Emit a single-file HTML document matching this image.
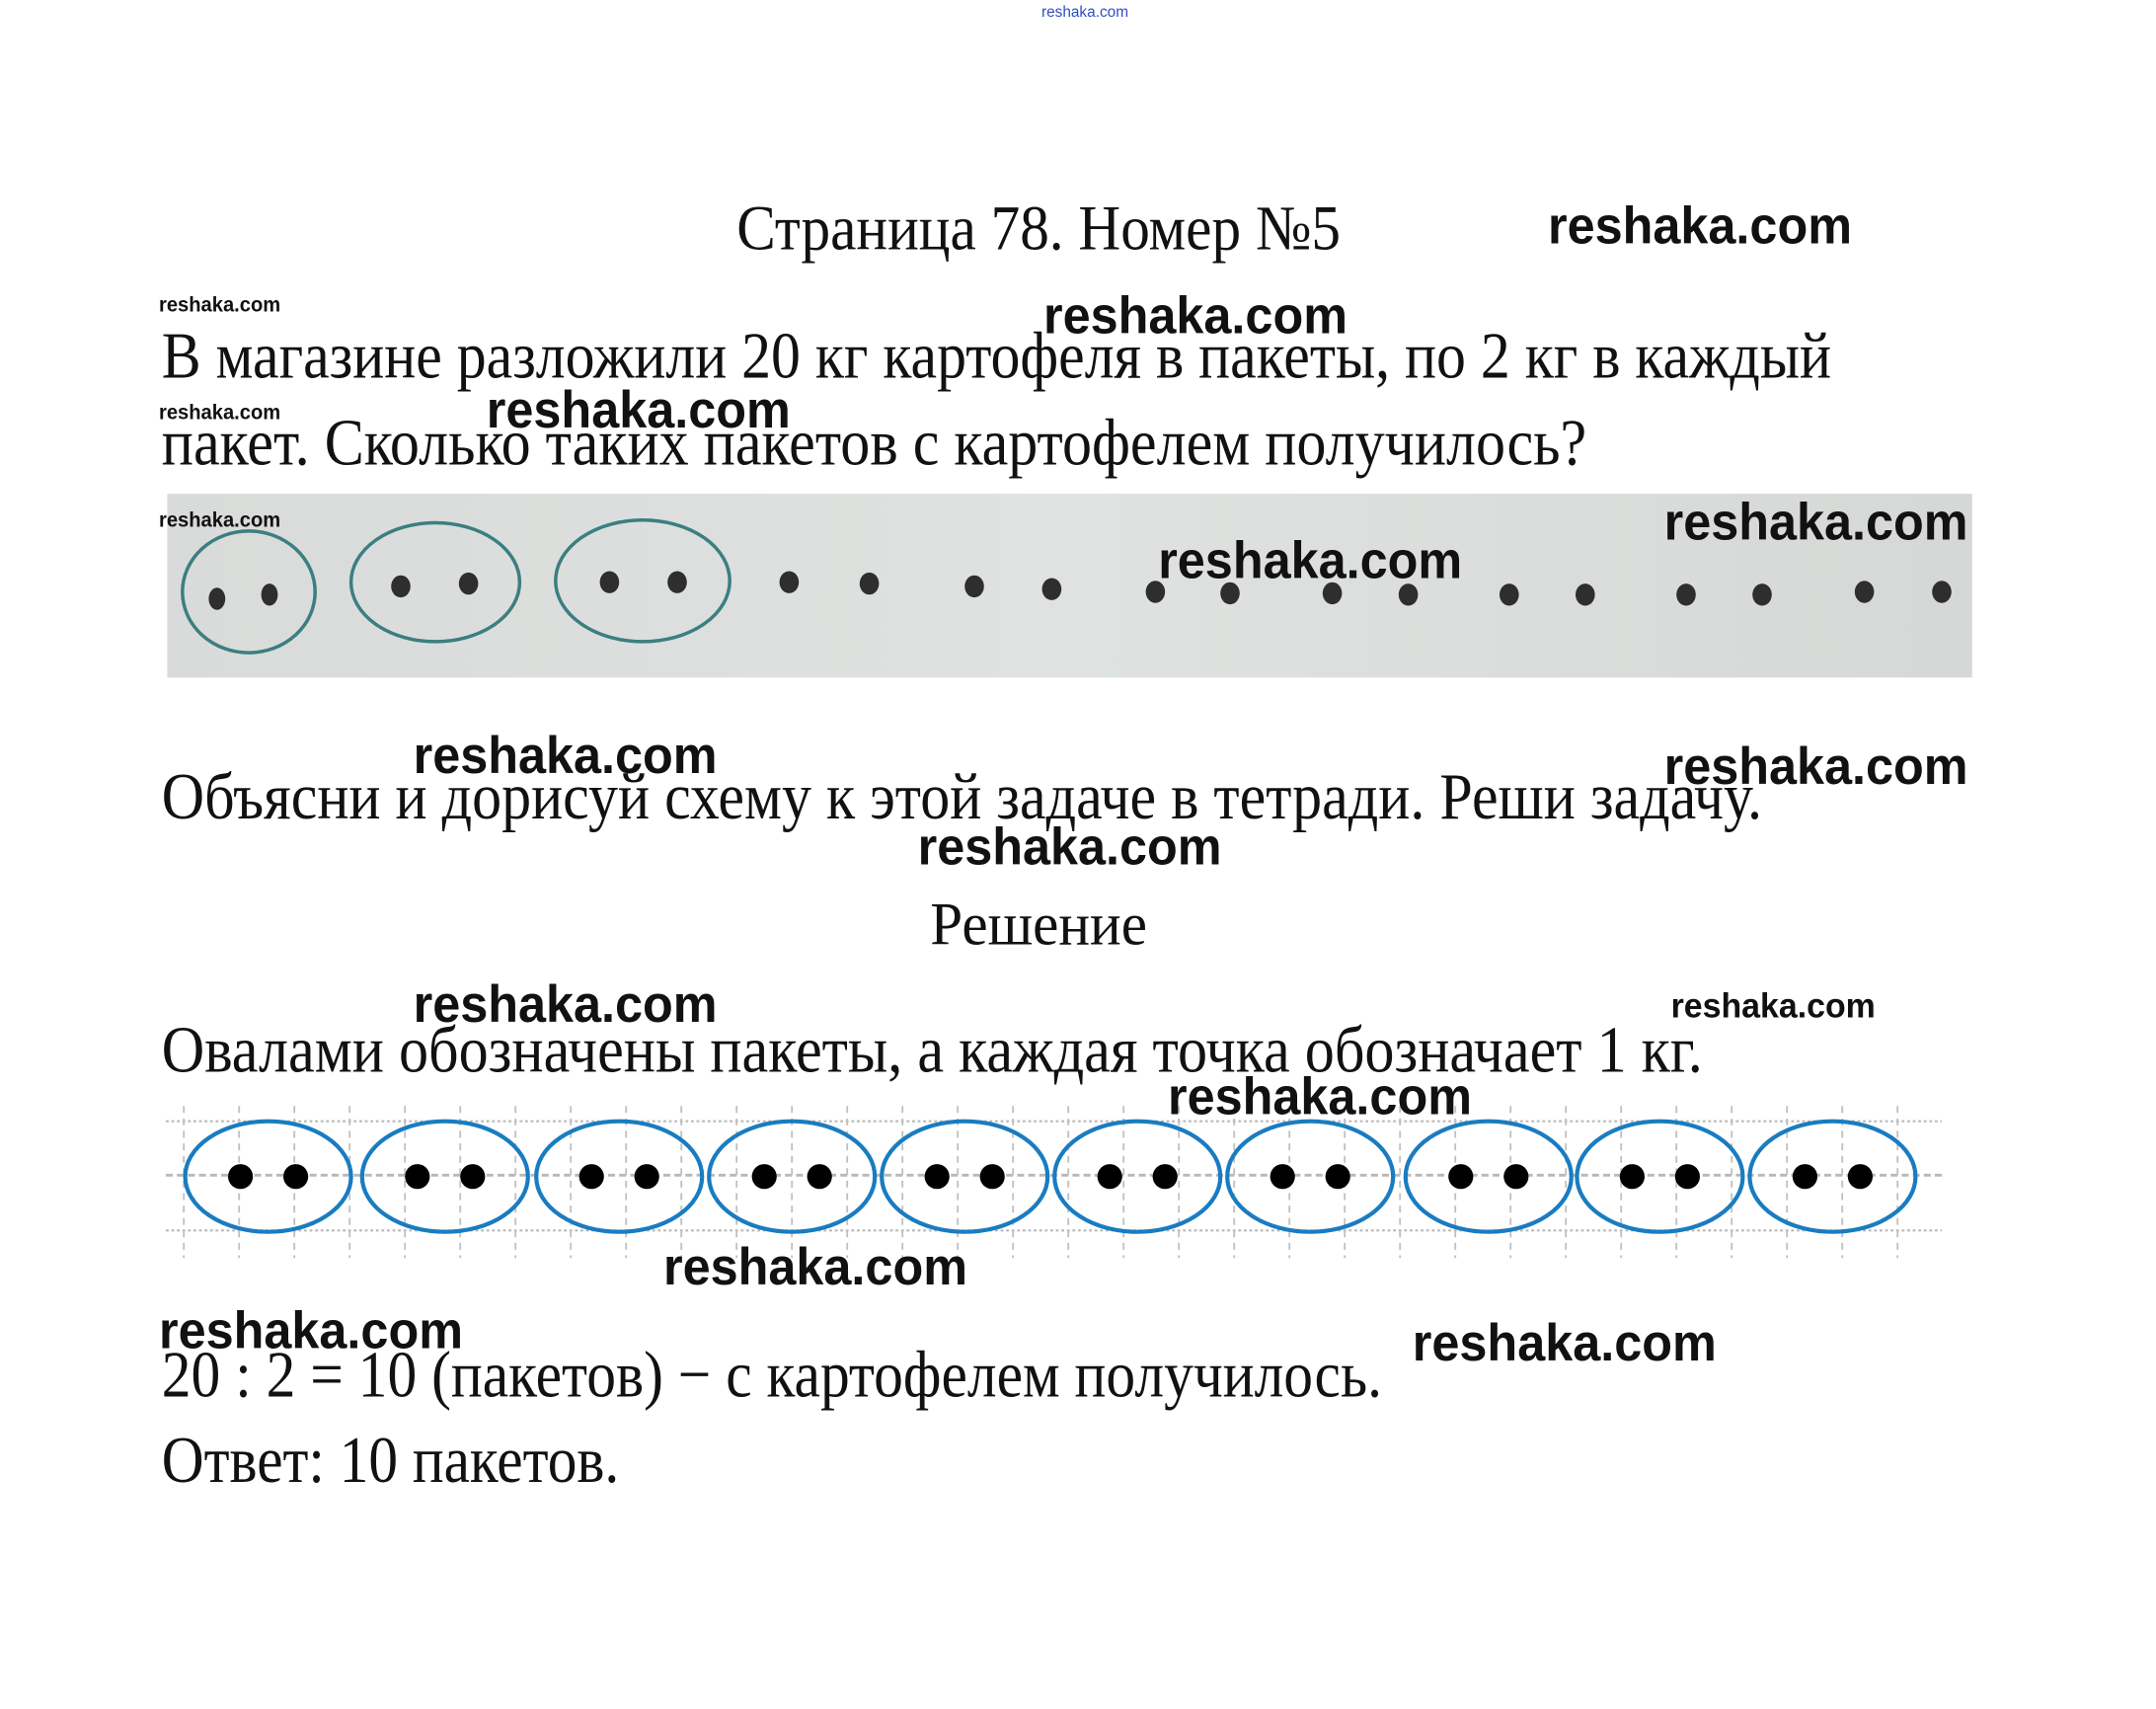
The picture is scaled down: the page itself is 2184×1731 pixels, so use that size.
<!DOCTYPE html>
<html><head><meta charset="utf-8"><style>
html,body{margin:0;padding:0;background:#fff;}
svg{display:block;}
.s{font-family:"Liberation Serif","DejaVu Serif",serif;fill:#111;}
.w{font-family:"Liberation Sans","DejaVu Sans",sans-serif;font-weight:bold;fill:#111;}
</style></head><body>
<svg width="2184" height="1731" viewBox="0 0 1560 1236" xmlns="http://www.w3.org/2000/svg">
<defs>
<linearGradient id="g" x1="0" x2="1" y1="0" y2="0">
<stop offset="0" stop-color="#d9dbda"/><stop offset="0.5" stop-color="#dfe2e0"/><stop offset="1" stop-color="#d6d8d7"/>
</linearGradient>
</defs>
<text x="785" y="12" font-family="Liberation Sans,sans-serif" font-size="11" fill="#3050c0" text-anchor="middle">reshaka.com</text>

<text class="s" x="533" y="180" font-size="46" textLength="437" lengthAdjust="spacingAndGlyphs">Страница 78. Номер №5</text>
<text class="s" x="117" y="273" font-size="48" textLength="1208" lengthAdjust="spacingAndGlyphs">В магазине разложили 20 кг картофеля в пакеты, по 2 кг в каждый</text>
<text class="s" x="117" y="336" font-size="48" textLength="1031" lengthAdjust="spacingAndGlyphs">пакет. Сколько таких пакетов с картофелем получилось?</text>

<rect x="121" y="357" width="1306" height="133" fill="url(#g)"/>
<g fill="none" stroke="#3b7f80" stroke-width="2.5">
<ellipse cx="180" cy="428" rx="48" ry="44"/>
<ellipse cx="315" cy="421" rx="61" ry="43"/>
<ellipse cx="465" cy="420" rx="63" ry="44"/>
</g>
<g fill="#2e2e2e">
<ellipse cx="157" cy="433" rx="6" ry="8"/><ellipse cx="195" cy="430" rx="6" ry="8"/>
<ellipse cx="290" cy="424" rx="7" ry="8"/><ellipse cx="339" cy="422" rx="7" ry="8"/>
<ellipse cx="441" cy="421" rx="7" ry="8"/><ellipse cx="490" cy="421" rx="7" ry="8"/>
<ellipse cx="571" cy="421" rx="7" ry="8"/><ellipse cx="629" cy="422" rx="7" ry="8"/>
<ellipse cx="705" cy="424" rx="7" ry="8"/><ellipse cx="761" cy="426" rx="7" ry="8"/>
<ellipse cx="836" cy="428" rx="7" ry="8"/><ellipse cx="890" cy="429" rx="7" ry="8"/>
<ellipse cx="964" cy="429" rx="7" ry="8"/><ellipse cx="1019" cy="430" rx="7" ry="8"/>
<ellipse cx="1092" cy="430" rx="7" ry="8"/><ellipse cx="1147" cy="430" rx="7" ry="8"/>
<ellipse cx="1220" cy="430" rx="7" ry="8"/><ellipse cx="1275" cy="430" rx="7" ry="8"/>
<ellipse cx="1349" cy="428" rx="7" ry="8"/><ellipse cx="1405" cy="428" rx="7" ry="8"/>
</g>

<text class="s" x="117" y="592" font-size="48" textLength="1158" lengthAdjust="spacingAndGlyphs">Объясни и дорисуй схему к этой задаче в тетради. Реши задачу.</text>
<text class="s" x="673" y="683" font-size="44" textLength="157" lengthAdjust="spacingAndGlyphs">Решение</text>
<text class="s" x="117" y="775" font-size="48" textLength="1115" lengthAdjust="spacingAndGlyphs">Овалами обозначены пакеты, а каждая точка обозначает 1 кг.</text>

<g stroke="#b8b8b8" stroke-width="1.5">
<line x1="120" y1="811" x2="1405" y2="811" stroke-dasharray="2 2"/>
<line x1="120" y1="890" x2="1405" y2="890" stroke-dasharray="2 2"/>
<line x1="120" y1="850" x2="1405" y2="850" stroke-dasharray="5 3" stroke-width="2"/>
</g>
<g stroke="#c0c0c0" stroke-width="1.3" stroke-dasharray="5 4">
<line x1="133" y1="800" x2="133" y2="910"/><line x1="173" y1="800" x2="173" y2="910"/><line x1="213" y1="800" x2="213" y2="910"/><line x1="253" y1="800" x2="253" y2="910"/><line x1="293" y1="800" x2="293" y2="910"/><line x1="333" y1="800" x2="333" y2="910"/><line x1="373" y1="800" x2="373" y2="910"/><line x1="413" y1="800" x2="413" y2="910"/><line x1="453" y1="800" x2="453" y2="910"/><line x1="493" y1="800" x2="493" y2="910"/><line x1="533" y1="800" x2="533" y2="910"/><line x1="573" y1="800" x2="573" y2="910"/><line x1="613" y1="800" x2="613" y2="910"/><line x1="653" y1="800" x2="653" y2="910"/><line x1="693" y1="800" x2="693" y2="910"/><line x1="733" y1="800" x2="733" y2="910"/><line x1="773" y1="800" x2="773" y2="910"/><line x1="813" y1="800" x2="813" y2="910"/><line x1="853" y1="800" x2="853" y2="910"/><line x1="893" y1="800" x2="893" y2="910"/><line x1="933" y1="800" x2="933" y2="910"/><line x1="973" y1="800" x2="973" y2="910"/><line x1="1013" y1="800" x2="1013" y2="910"/><line x1="1053" y1="800" x2="1053" y2="910"/><line x1="1093" y1="800" x2="1093" y2="910"/><line x1="1133" y1="800" x2="1133" y2="910"/><line x1="1173" y1="800" x2="1173" y2="910"/><line x1="1213" y1="800" x2="1213" y2="910"/><line x1="1253" y1="800" x2="1253" y2="910"/><line x1="1293" y1="800" x2="1293" y2="910"/><line x1="1333" y1="800" x2="1333" y2="910"/><line x1="1373" y1="800" x2="1373" y2="910"/>
</g>
<g fill="#fff" fill-opacity="0" stroke="#1a7cc0" stroke-width="3">
<ellipse cx="194" cy="851" rx="60" ry="40"/><ellipse cx="322" cy="851" rx="60" ry="40"/><ellipse cx="448" cy="851" rx="60" ry="40"/><ellipse cx="573" cy="851" rx="60" ry="40"/><ellipse cx="698" cy="851" rx="60" ry="40"/><ellipse cx="823" cy="851" rx="60" ry="40"/><ellipse cx="948" cy="851" rx="60" ry="40"/><ellipse cx="1077" cy="851" rx="60" ry="40"/><ellipse cx="1201" cy="851" rx="60" ry="40"/><ellipse cx="1326" cy="851" rx="60" ry="40"/>
</g>
<g fill="#000">
<circle cx="174" cy="851" r="9"/><circle cx="214" cy="851" r="9"/>
<circle cx="302" cy="851" r="9"/><circle cx="342" cy="851" r="9"/>
<circle cx="428" cy="851" r="9"/><circle cx="468" cy="851" r="9"/>
<circle cx="553" cy="851" r="9"/><circle cx="593" cy="851" r="9"/>
<circle cx="678" cy="851" r="9"/><circle cx="718" cy="851" r="9"/>
<circle cx="803" cy="851" r="9"/><circle cx="843" cy="851" r="9"/>
<circle cx="928" cy="851" r="9"/><circle cx="968" cy="851" r="9"/>
<circle cx="1057" cy="851" r="9"/><circle cx="1097" cy="851" r="9"/>
<circle cx="1181" cy="851" r="9"/><circle cx="1221" cy="851" r="9"/>
<circle cx="1306" cy="851" r="9"/><circle cx="1346" cy="851" r="9"/>
</g>

<text class="s" x="117" y="1010" font-size="48" textLength="883" lengthAdjust="spacingAndGlyphs">20 : 2 = 10 (пакетов) − с картофелем получилось.</text>
<text class="s" x="117" y="1072" font-size="48" textLength="331" lengthAdjust="spacingAndGlyphs">Ответ: 10 пакетов.</text>

<g class="w" font-size="38">
<text x="1120" y="176" textLength="220" lengthAdjust="spacingAndGlyphs">reshaka.com</text>
<text x="755" y="241" textLength="220" lengthAdjust="spacingAndGlyphs">reshaka.com</text>
<text x="352" y="309" textLength="220" lengthAdjust="spacingAndGlyphs">reshaka.com</text>
<text x="1204" y="390" textLength="220" lengthAdjust="spacingAndGlyphs">reshaka.com</text>
<text x="838" y="418" textLength="220" lengthAdjust="spacingAndGlyphs">reshaka.com</text>
<text x="299" y="559" textLength="220" lengthAdjust="spacingAndGlyphs">reshaka.com</text>
<text x="1204" y="567" textLength="220" lengthAdjust="spacingAndGlyphs">reshaka.com</text>
<text x="664" y="625" textLength="220" lengthAdjust="spacingAndGlyphs">reshaka.com</text>
<text x="299" y="739" textLength="220" lengthAdjust="spacingAndGlyphs">reshaka.com</text>
<text x="845" y="806" textLength="220" lengthAdjust="spacingAndGlyphs">reshaka.com</text>
<text x="480" y="929" textLength="220" lengthAdjust="spacingAndGlyphs">reshaka.com</text>
<text x="115" y="975" textLength="220" lengthAdjust="spacingAndGlyphs">reshaka.com</text>
<text x="1022" y="984" textLength="220" lengthAdjust="spacingAndGlyphs">reshaka.com</text>
</g>
<text class="w" x="1209" y="736" font-size="25" font-weight="normal" textLength="148" lengthAdjust="spacingAndGlyphs">reshaka.com</text>
<g class="w" font-size="15" font-weight="normal">
<text x="115" y="225" textLength="88" lengthAdjust="spacingAndGlyphs">reshaka.com</text>
<text x="115" y="303" textLength="88" lengthAdjust="spacingAndGlyphs">reshaka.com</text>
<text x="115" y="381" textLength="88" lengthAdjust="spacingAndGlyphs">reshaka.com</text>
</g>
</svg>
</body></html>
